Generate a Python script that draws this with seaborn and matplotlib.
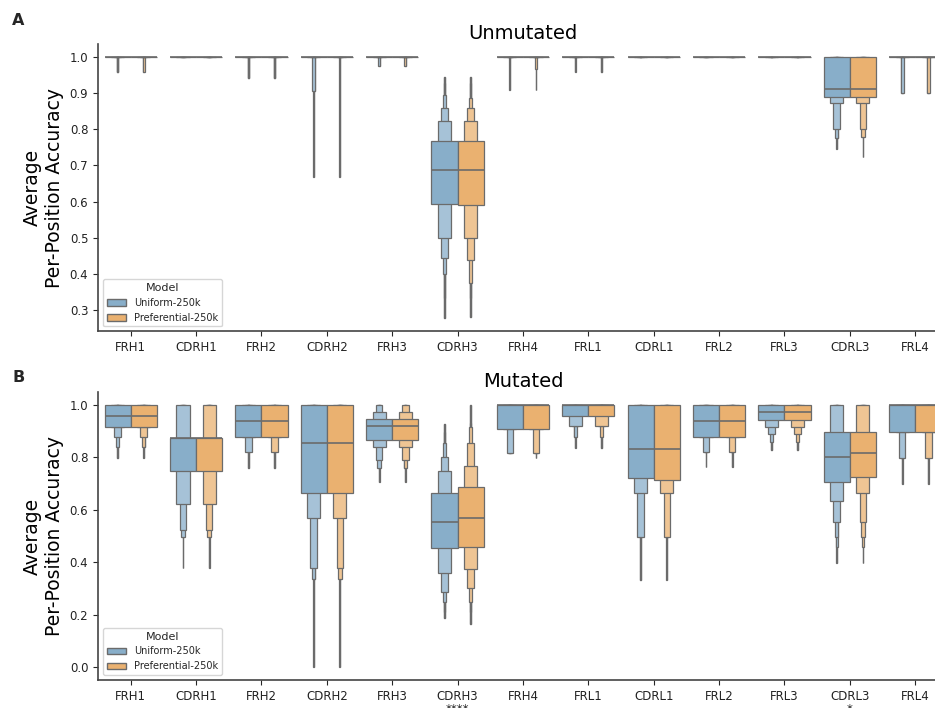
import numpy as np
import matplotlib.pyplot as plt
import matplotlib.patches as mpatches
import seaborn as sns

# Regions and models
regions = ["FRH1", "CDRH1", "FRH2", "CDRH2", "FRH3", "CDRH3", "FRH4",
           "FRL1", "CDRL1", "FRL2", "FRL3", "CDRL3", "FRL4"]
models = ["Uniform-250k", "Preferential-250k"]
sig_marks = ["", "", "", "", "", "****", "", "", "", "", "", "*", ""]

# Letter values: median, then lower / upper ends of each
# level (level 0 = fourths, level 1 = eighths, ...)
ONE = [1.0] * 7

unmut_uni_med = [1.0, 1.0, 1.0, 1.0, 1.0, 0.688, 1.0, 1.0, 1.0, 1.0, 1.0, 0.911, 1.0]
unmut_uni_lo = [
    [1, 1, 1, 1, 0.96, 0.96, 0.96],
    ONE,
    [1, 1, 1, 1, 0.942, 0.942, 0.942],
    [1, 1, 1, 0.905, 0.905, 0.667, 0.667],
    [1, 1, 1, 1, 0.974, 0.974, 0.974],
    [0.592, 0.500, 0.443, 0.400, 0.332, 0.277, 0.277],
    [1, 1, 1, 1, 1, 0.91, 0.91],
    [1, 1, 1, 1, 1, 0.96, 0.96],
    ONE,
    ONE,
    ONE,
    [0.890, 0.874, 0.800, 0.775, 0.775, 0.745, 0.745],
    [1, 1, 1, 0.90, 0.90, 0.90, 0.90],
]
unmut_uni_hi = [ONE] * 5 + [[0.769, 0.824, 0.858, 0.895, 0.927, 0.944, 0.944]] + [ONE] * 7

unmut_pref_med = [1.0, 1.0, 1.0, 1.0, 1.0, 0.688, 1.0, 1.0, 1.0, 1.0, 1.0, 0.911, 1.0]
unmut_pref_lo = [
    [1, 1, 1, 1, 0.96, 0.96, 0.96],
    ONE,
    [1, 1, 1, 1, 0.942, 0.942, 0.942],
    [1, 1, 1, 1, 1, 0.667, 0.667],
    [1, 1, 1, 1, 0.974, 0.974, 0.974],
    [0.590, 0.500, 0.438, 0.376, 0.332, 0.280, 0.280],
    [1, 1, 1, 1, 0.968, 0.91, 0.91],
    [1, 1, 1, 1, 1, 0.96, 0.96],
    ONE,
    ONE,
    ONE,
    [0.890, 0.874, 0.800, 0.778, 0.778, 0.724, 0.724],
    [1, 1, 1, 0.90, 0.90, 0.90, 0.90],
]
unmut_pref_hi = [ONE] * 5 + [[0.769, 0.824, 0.858, 0.888, 0.927, 0.944, 0.944]] + [ONE] * 7

mut_uni_med = [0.959, 0.873, 0.940, 0.856, 0.920, 0.555, 1.0, 1.0, 0.832, 0.940, 0.972, 0.800, 1.0]
mut_uni_lo = [
    [0.917, 0.917, 0.879, 0.841, 0.841, 0.796, 0.796],
    [0.748, 0.623, 0.523, 0.498, 0.498, 0.377, 0.377],
    [0.879, 0.879, 0.822, 0.822, 0.822, 0.761, 0.761],
    [0.665, 0.570, 0.377, 0.335, 0.335, 0.0, 0.0],
    [0.866, 0.841, 0.790, 0.758, 0.758, 0.707, 0.707],
    [0.453, 0.360, 0.288, 0.250, 0.211, 0.186, 0.186],
    [0.907, 0.907, 0.816, 0.816, 0.816, 0.816, 0.816],
    [0.958, 0.920, 0.920, 0.879, 0.879, 0.835, 0.835],
    [0.723, 0.665, 0.498, 0.498, 0.498, 0.332, 0.332],
    [0.879, 0.879, 0.822, 0.822, 0.822, 0.762, 0.762],
    [0.943, 0.915, 0.888, 0.860, 0.860, 0.828, 0.828],
    [0.707, 0.634, 0.555, 0.498, 0.460, 0.398, 0.398],
    [0.898, 0.898, 0.799, 0.799, 0.799, 0.697, 0.697],
]
mut_uni_hi = [
    ONE,
    [0.873, 1, 1, 1, 1, 1, 1],
    ONE,
    ONE,
    [0.945, 0.972, 1, 1, 1, 1, 1],
    [0.665, 0.748, 0.800, 0.854, 0.898, 0.926, 0.926],
    ONE,
    ONE,
    ONE,
    ONE,
    ONE,
    [0.898, 1, 1, 1, 1, 1, 1],
    ONE,
]

mut_pref_med = [0.959, 0.873, 0.940, 0.856, 0.920, 0.570, 1.0, 1.0, 0.832, 0.940, 0.972, 0.816, 1.0]
mut_pref_lo = [
    [0.917, 0.917, 0.879, 0.841, 0.841, 0.796, 0.796],
    [0.748, 0.623, 0.523, 0.498, 0.498, 0.377, 0.377],
    [0.879, 0.879, 0.822, 0.822, 0.822, 0.761, 0.761],
    [0.665, 0.570, 0.377, 0.335, 0.335, 0.0, 0.0],
    [0.866, 0.841, 0.790, 0.758, 0.758, 0.707, 0.707],
    [0.459, 0.374, 0.300, 0.250, 0.211, 0.163, 0.163],
    [0.907, 0.907, 0.816, 0.816, 0.816, 0.797, 0.797],
    [0.958, 0.920, 0.920, 0.879, 0.879, 0.835, 0.835],
    [0.713, 0.665, 0.498, 0.498, 0.498, 0.332, 0.332],
    [0.879, 0.879, 0.822, 0.822, 0.822, 0.762, 0.762],
    [0.943, 0.915, 0.888, 0.860, 0.860, 0.828, 0.828],
    [0.727, 0.665, 0.555, 0.498, 0.460, 0.398, 0.398],
    [0.898, 0.898, 0.799, 0.799, 0.799, 0.697, 0.697],
]
mut_pref_hi = [
    ONE,
    [0.873, 1, 1, 1, 1, 1, 1],
    ONE,
    ONE,
    [0.945, 0.972, 1, 1, 1, 1, 1],
    [0.686, 0.769, 0.854, 0.915, 0.930, 1.0, 1.0],
    ONE,
    ONE,
    ONE,
    ONE,
    ONE,
    [0.898, 1, 1, 1, 1, 1, 1],
    ONE,
]

sns.set_style("ticks")
plt.rcParams['font.family'] = ['DejaVu Sans']

main_colors = ["#88aec9", "#eab170"]
light_colors = [sns.blend_palette([c, "white"], 5)[1] for c in main_colors]
edge = "#6b6b6b"


def draw_boxen(ax, med, lo, hi, offset, color, light):
    for i in range(len(regions)):
        x = i + offset
        for k in range(len(lo[i]) - 1, -1, -1):
            w = 0.4 * 0.5 ** k
            ax.bar(x, hi[i][k] - lo[i][k], width=w, bottom=lo[i][k],
                   color=color if k == 0 else light, edgecolor=edge,
                   linewidth=0.9, zorder=2 + (7 - k) * 0.1)
        ax.hlines(med[i], x - 0.2, x + 0.2, color=edge, lw=1.2, zorder=3)


fig = plt.figure(figsize=(9.35, 7.08), dpi=100)
axA = fig.add_axes([0.1048, 0.532, 0.909, 0.4058])
axB = fig.add_axes([0.1048, 0.0394, 0.909, 0.407])

panels = [
    (axA, "Unmutated", [(unmut_uni_med, unmut_uni_lo, unmut_uni_hi),
                        (unmut_pref_med, unmut_pref_lo, unmut_pref_hi)]),
    (axB, "Mutated", [(mut_uni_med, mut_uni_lo, mut_uni_hi),
                      (mut_pref_med, mut_pref_lo, mut_pref_hi)]),
]

for ax, title, series in panels:
    for j, (med, lo, hi) in enumerate(series):
        draw_boxen(ax, med, lo, hi, -0.2 + 0.4 * j, main_colors[j], light_colors[j])
    ax.set_xlim(-0.5, len(regions) - 0.5)
    ax.set_xticks(range(len(regions)))
    ax.set_title(title, fontsize=14, pad=3.5, color="black")
    ax.set_ylabel("Average\nPer-Position Accuracy", fontsize=13.5, color="black")
    ax.tick_params(labelsize=8.5, labelcolor="#222222")
    sns.despine(ax=ax)
    for s in ["left", "bottom"]:
        ax.spines[s].set_color("#444444")
        ax.spines[s].set_linewidth(1.2)
    handles = [mpatches.Patch(facecolor=c, edgecolor=edge, label=m)
               for c, m in zip(main_colors, models)]
    ax.legend(handles=handles, title="Model", loc="lower left",
              fontsize=7, title_fontsize=8, frameon=True)

axA.set_ylim(0.241, 1.036)
axA.set_yticks(np.round(np.arange(0.3, 1.01, 0.1), 1))
axA.set_xticklabels(regions)

axB.set_ylim(-0.05, 1.05)
axB.set_yticks(np.round(np.arange(0.0, 1.01, 0.2), 1))
axB.set_xticklabels([r + ("\n" + m if m else "") for r, m in zip(regions, sig_marks)],
                    linespacing=1.0)

fig.text(0.013, 0.965, "A", fontsize=11.5, fontweight="bold")
fig.text(0.013, 0.46, "B", fontsize=11.5, fontweight="bold")

plt.savefig("out.png", dpi=100)
